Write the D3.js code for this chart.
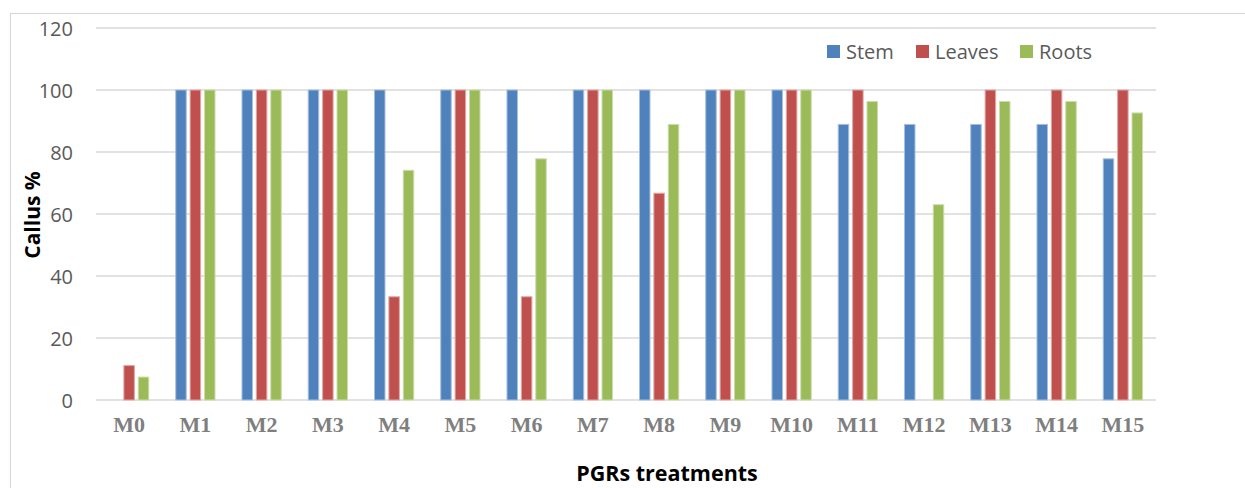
<!DOCTYPE html>
<html>
<head>
<meta charset="utf-8">
<script src="https://cdn.jsdelivr.net/npm/d3@7"></script>
<style>
	body { margin: 0; background: #fff; }
	svg { display: block; }
</style>
</head>
<body>
<script>
var categories = ["M0", "M1", "M2", "M3", "M4", "M5", "M6", "M7", "M8", "M9", "M10", "M11", "M12", "M13", "M14", "M15"];
var seriesNames = ["Stem", "Leaves", "Roots"];
var stem = [0, 100, 100, 100, 100, 100, 100, 100, 100, 100, 100, 88.9, 88.9, 88.9, 88.9, 77.8];
var leaves = [11.1, 100, 100, 100, 33.3, 100, 33.3, 100, 66.7, 100, 100, 100, 0, 100, 100, 100];
var roots = [7.4, 100, 100, 100, 74.1, 100, 77.8, 100, 88.9, 100, 100, 96.3, 63, 96.3, 96.3, 92.6];
var yTicks = [0, 20, 40, 60, 80, 100, 120];

var colors = { Stem: "#4f81bd", Leaves: "#c0504d", Roots: "#9bbb59" },
		edges = { Stem: "#a7c0de", Leaves: "#e0a8a6", Roots: "#cddcac" };

var values = { Stem: stem, Leaves: leaves, Roots: roots };

var width = 1245, height = 488;
var plot = {left: 96, right: 1156, top: 28, bottom: 400};

var svg = d3.select("body").append("svg")
	.attr("width", width)
	.attr("height", height);

// chart frame
svg.append("rect")
	.attr("x", 10.5)
	.attr("y", 13.5)
	.attr("width", width)
	.attr("height", height)
	.attr("fill", "none")
	.attr("stroke", "#d9d9d9")
	.attr("stroke-width", 1.2);

var x = d3.scaleBand().domain(categories).range([plot.left, plot.right]);
var groupW = x.bandwidth() * 0.608;
var x1 = d3.scaleBand().domain(seriesNames).range([0, groupW]).paddingInner(0.2);
var y = d3.scaleLinear().domain([0, 120]).range([plot.bottom, plot.top]);

// gridlines
svg.append("g")
	.selectAll("line")
	.data(yTicks)
	.join("line")
		.attr("x1", plot.left)
		.attr("x2", plot.right)
		.attr("y1", function(d) { return y(d); })
		.attr("y2", function(d) { return y(d); })
		.attr("stroke", "#d9d9d9")
		.attr("stroke-width", 1.5);

// y axis labels
var yAxis = d3.axisLeft(y).tickValues(yTicks).tickSize(0).tickPadding(0);
var yg = svg.append("g")
	.attr("transform", "translate(73,0)")
	.call(yAxis);
yg.select(".domain").remove();
yg.selectAll("text")
	.attr("fill", "#595959")
	.attr("font-family", "'Open Sans', sans-serif")
	.attr("font-size", 20)
	.attr("dy", "0.35em");

// bars
var groups = svg.append("g")
	.selectAll("g")
	.data(categories)
	.join("g")
		.attr("transform", function(d) { return "translate(" + (x(d) + (x.bandwidth() - groupW) / 2) + ",0)"; });

groups.selectAll("rect")
	.data(function(d, i) {
		return seriesNames.map(function(s) { return {series: s, value: values[s][i]}; });
	})
	.join("rect")
		.filter(function(d) { return d.value > 0; })
		.attr("x", function(d) { return x1(d.series) + 0.5; })
		.attr("y", function(d) { return y(d.value); })
		.attr("width", x1.bandwidth() - 1)
		.attr("height", function(d) { return y(0) - y(d.value); })
		.attr("fill", function(d) { return colors[d.series]; })
		.attr("stroke", function(d) { return edges[d.series]; })
		.attr("stroke-width", 1);

// x axis labels
var xAxis = d3.axisBottom(x).tickSize(0).tickPadding(0);
var xg = svg.append("g")
	.attr("transform", "translate(0,432)")
	.call(xAxis);
xg.select(".domain").remove();
xg.selectAll("text")
	.attr("dy", 0)
	.attr("fill", "#7f7f7f")
	.attr("font-family", "'Liberation Serif', 'Times New Roman', serif")
	.attr("font-weight", "bold")
	.attr("font-size", 22);

// axis titles
svg.append("text")
	.attr("transform", "translate(40,215) rotate(-90)")
	.attr("text-anchor", "middle")
	.attr("font-family", "'Open Sans', sans-serif")
	.attr("font-weight", "bold")
	.attr("font-size", 21)
	.attr("fill", "#000")
	.text("Callus %");

svg.append("text")
	.attr("x", 667)
	.attr("y", 481)
	.attr("text-anchor", "middle")
	.attr("font-family", "'Open Sans', sans-serif")
	.attr("font-weight", "bold")
	.attr("font-size", 21.5)
	.attr("fill", "#000")
	.text("PGRs treatments");

// legend
var legendX = [827, 916, 1020];
var legend = svg.append("g")
	.selectAll("g")
	.data(seriesNames)
	.join("g")
		.attr("transform", function(d, i) { return "translate(" + legendX[i] + ",45)"; });
legend.append("rect")
	.attr("width", 13)
	.attr("height", 13)
	.attr("fill", function(d) { return colors[d]; });
legend.append("text")
	.attr("x", 19)
	.attr("y", 14)
	.attr("font-family", "'Open Sans', sans-serif")
	.attr("font-size", 20)
	.attr("fill", "#595959")
	.text(function(d) { return d; });
</script>
</body>
</html>
